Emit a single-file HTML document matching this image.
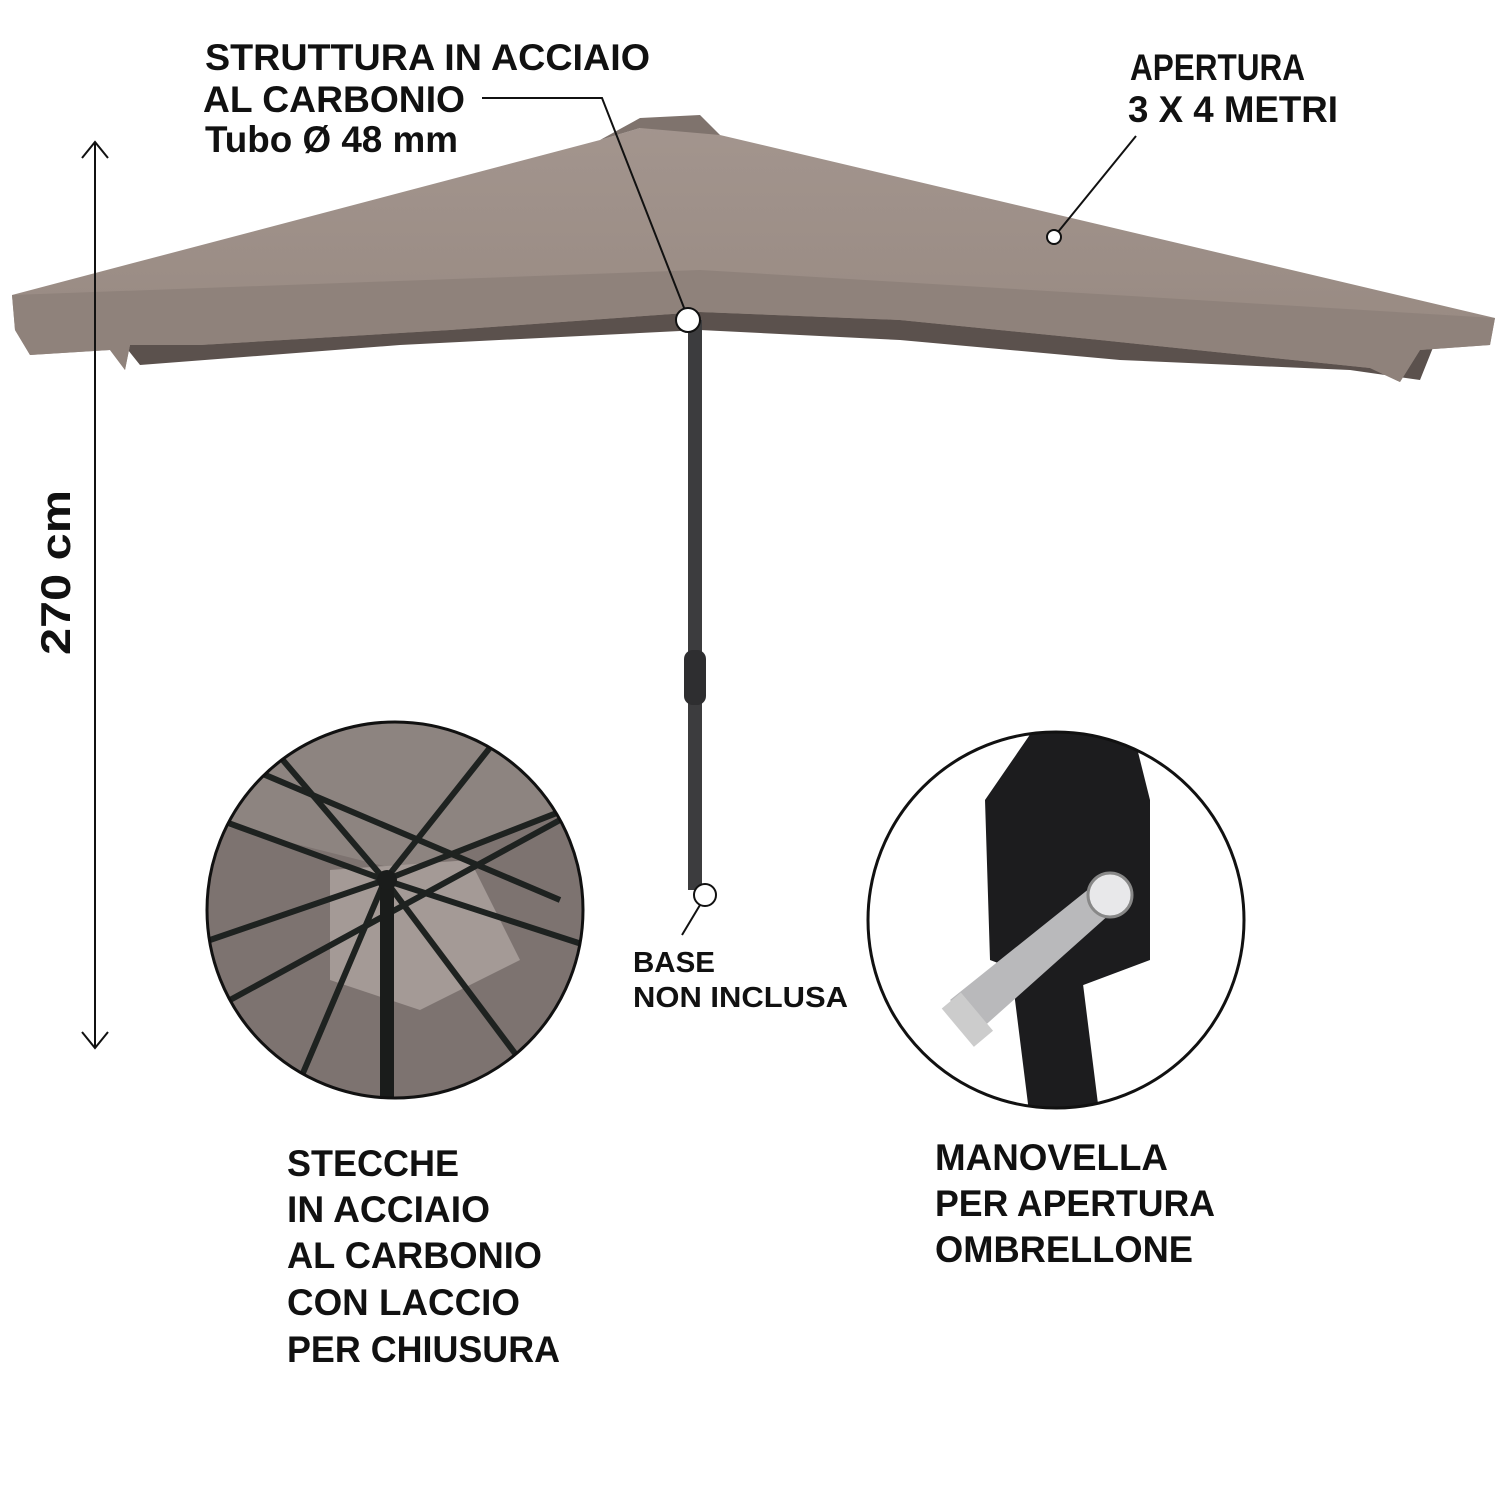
<!DOCTYPE html>
<html><head><meta charset="utf-8"><style>
html,body{margin:0;padding:0;background:#fff}
svg{display:block}
text{font-family:"Liberation Sans",sans-serif;font-weight:bold;fill:#111}
</style></head><body>
<svg width="1500" height="1500" viewBox="0 0 1500 1500" xmlns="http://www.w3.org/2000/svg">
<defs>
<clipPath id="cl"><circle cx="395" cy="910" r="188"/></clipPath>
<clipPath id="cr"><circle cx="1056" cy="920" r="188"/></clipPath>
<linearGradient id="can" x1="0" y1="0" x2="0" y2="1">
<stop offset="0" stop-color="#a3958e"/><stop offset="1" stop-color="#968880"/></linearGradient>
</defs>
<!-- under shadow -->
<path d="M120 340 L700 310 L1440 330 L1420 380 L1350 370 L1120 360 L900 340 L700 330 L400 345 L140 365 Z" fill="#5b514d"/>
<!-- canopy -->
<path d="M12 295 L600 140 L640 128 L700 122 L720 135 L1495 318 L1490 345 L1420 350 L1400 382 L1370 368 L1100 340 L900 320 L700 312 L450 330 L200 345 L130 345 L125 370 L110 350 L30 355 L15 330 Z" fill="url(#can)"/>
<path d="M12 295 L700 270 L1495 318 L1490 345 L1420 350 L1400 382 L1370 368 L1100 340 L900 320 L700 312 L450 330 L200 345 L130 345 L125 370 L110 350 L30 355 L15 330 Z" fill="#8f827b"/>
<path d="M600 140 L640 118 L700 115 L720 135 L640 128 Z" fill="#7f736d"/>
<!-- pole -->
<rect x="688" y="320" width="14" height="570" fill="#3c3c3e"/>
<rect x="684" y="650" width="22" height="55" rx="9" fill="#2e2e30"/>
<!-- height arrow -->
<line x1="95" y1="142" x2="95" y2="1048" stroke="#111" stroke-width="2"/>
<polyline points="82,158 95,142 108,158" fill="none" stroke="#111" stroke-width="2"/>
<polyline points="82,1032 95,1048 108,1032" fill="none" stroke="#111" stroke-width="2"/>
<text transform="translate(70,655) rotate(-90)" font-size="42" textLength="165" lengthAdjust="spacingAndGlyphs">270 cm</text>
<!-- labels top -->
<text x="205" y="70" font-size="37" textLength="445" lengthAdjust="spacingAndGlyphs">STRUTTURA IN ACCIAIO</text>
<text x="203" y="112" font-size="37" textLength="262" lengthAdjust="spacingAndGlyphs">AL CARBONIO</text>
<text x="205" y="152" font-size="37" textLength="253" lengthAdjust="spacingAndGlyphs">Tubo Ø 48 mm</text>
<polyline points="482,98 602,98 688,318" fill="none" stroke="#111" stroke-width="2"/>
<circle cx="688" cy="320" r="12" fill="#fff" stroke="#111" stroke-width="2"/>
<text x="1130" y="80" font-size="37" textLength="175" lengthAdjust="spacingAndGlyphs">APERTURA</text>
<text x="1128" y="122" font-size="37" textLength="210" lengthAdjust="spacingAndGlyphs">3 X 4 METRI</text>
<line x1="1136" y1="136" x2="1058" y2="232" stroke="#111" stroke-width="2"/>
<circle cx="1054" cy="237" r="7" fill="#fff" stroke="#111" stroke-width="2"/>
<!-- base -->
<circle cx="705" cy="895" r="11" fill="#fff" stroke="#111" stroke-width="2"/>
<line x1="700" y1="905" x2="682" y2="935" stroke="#111" stroke-width="2"/>
<text x="633" y="972" font-size="29" textLength="82" lengthAdjust="spacingAndGlyphs">BASE</text>
<text x="633" y="1007" font-size="29" textLength="215" lengthAdjust="spacingAndGlyphs">NON INCLUSA</text>
<!-- left circle -->
<g clip-path="url(#cl)">
<rect x="200" y="715" width="400" height="400" fill="#7d7370"/>
<path d="M200 715 L600 715 L600 800 L400 870 L200 820Z" fill="#8d8480"/>
<path d="M330 870 L470 860 L520 960 L420 1010 L330 980Z" fill="#a49a96"/>
<g stroke="#1e2220" stroke-width="6" fill="none">
<line x1="385" y1="880" x2="270" y2="745"/>
<line x1="385" y1="880" x2="500" y2="735"/>
<line x1="385" y1="880" x2="590" y2="800"/>
<line x1="385" y1="880" x2="600" y2="950"/>
<line x1="385" y1="880" x2="520" y2="1060"/>
<line x1="385" y1="880" x2="210" y2="940"/>
<line x1="385" y1="880" x2="220" y2="820"/>
<line x1="385" y1="880" x2="300" y2="1080"/>
<line x1="230" y1="760" x2="560" y2="900"/>
<line x1="230" y1="1000" x2="560" y2="820"/>
</g>
<rect x="380" y="875" width="14" height="260" fill="#1a1c1b"/>
<circle cx="387" cy="880" r="10" fill="#1a1c1b"/>
</g>
<circle cx="395" cy="910" r="188" fill="none" stroke="#111" stroke-width="3"/>
<!-- right circle -->
<g clip-path="url(#cr)">
<rect x="860" y="725" width="400" height="400" fill="#fff"/>
<path d="M1040 720 L1130 720 L1150 800 L1150 960 L1070 990 L990 960 L985 800Z" fill="#1c1c1e"/>
<path d="M1010 960 L1080 960 L1100 1120 L1030 1120 Z" fill="#1c1c1e"/>
<path d="M950 1000 L1100 880 L1120 905 L980 1030 Z" fill="#b9b9bb"/>
<circle cx="1110" cy="895" r="22" fill="#e8e8ea" stroke="#888" stroke-width="3"/>
<rect x="955" y="995" width="25" height="50" fill="#ccc" transform="rotate(-40 967 1020)"/>
</g>
<circle cx="1056" cy="920" r="188" fill="none" stroke="#111" stroke-width="3"/>
<!-- bottom labels -->
<text x="287" y="1176" font-size="37" textLength="172" lengthAdjust="spacingAndGlyphs">STECCHE</text>
<text x="287" y="1222" font-size="37" textLength="203" lengthAdjust="spacingAndGlyphs">IN ACCIAIO</text>
<text x="287" y="1268" font-size="37" textLength="255" lengthAdjust="spacingAndGlyphs">AL CARBONIO</text>
<text x="287" y="1315" font-size="37" textLength="233" lengthAdjust="spacingAndGlyphs">CON LACCIO</text>
<text x="287" y="1362" font-size="37" textLength="273" lengthAdjust="spacingAndGlyphs">PER CHIUSURA</text>
<text x="935" y="1170" font-size="37" textLength="233" lengthAdjust="spacingAndGlyphs">MANOVELLA</text>
<text x="935" y="1216" font-size="37" textLength="280" lengthAdjust="spacingAndGlyphs">PER APERTURA</text>
<text x="935" y="1262" font-size="37" textLength="258" lengthAdjust="spacingAndGlyphs">OMBRELLONE</text>
</svg>
</body></html>
